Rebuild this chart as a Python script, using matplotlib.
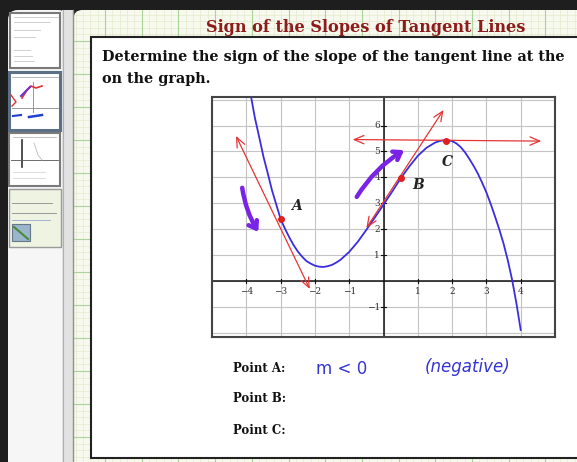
import matplotlib.pyplot as plt
import numpy as np
from matplotlib.patches import Rectangle, FancyBboxPatch

# curve
curveX = [-3.86, -3.75, -3.625, -3.5, -3.375, -3.25, -3.125, -3.0, -2.875, -2.75, -2.625,
          -2.5, -2.375, -2.25, -2.125, -2.0, -1.875, -1.75, -1.625, -1.5, -1.375, -1.25,
          -1.0, -0.75, -0.5, -0.25, 0.0, 0.25, 0.5, 0.75, 1.0, 1.25, 1.5, 1.625, 1.75,
          1.875, 2.0, 2.125, 2.25, 2.375, 2.5, 2.625, 2.75, 2.875, 3.0, 3.125, 3.25,
          3.375, 3.5, 3.625, 3.75, 3.875, 4.0]
curveY = [7.1, 6.3, 5.56, 4.8, 4.16, 3.5, 2.95, 2.4, 2.03, 1.7, 1.4,
          1.15, 0.95, 0.78, 0.68, 0.6, 0.56, 0.55, 0.58, 0.63, 0.72, 0.83,
          1.13, 1.52, 1.98, 2.46, 2.95, 3.45, 3.96, 4.42, 4.83, 5.14, 5.34, 5.40, 5.43,
          5.43, 5.40, 5.31, 5.17, 4.97, 4.72, 4.45, 4.15, 3.80, 3.42, 2.98, 2.5,
          2.0, 1.45, 0.8, 0.05, -0.85, -1.88]

# points A, B, C
ptNames = ['A', 'B', 'C']
ptX = [-3.0, 0.5, 1.82]
ptY = [2.4, 3.98, 5.42]
lblX = [-2.55, 1.0, 1.86]
lblY = [2.9, 3.72, 4.6]

# hand drawn tangent lines (start, end)
tanStart = [(-4.3, 5.6), (-0.5, 2.05), (-0.9, 5.46)]
tanEnd = [(-2.15, -0.3), (1.75, 6.6), (4.6, 5.4)]

# purple hand drawn arrows
purpStart = [(-4.12, 3.6), (-0.78, 3.25)]
purpEnd = [(-3.65, 1.9), (0.6, 5.05)]

xTicks = [-4, -3, -2, -1, 1, 2, 3, 4]
yTicks = [-1, 1, 2, 3, 4, 5, 6]

title = "Sign of the Slopes of Tangent Lines"
line1 = "Determine the sign of the slope of the tangent line at the"
line2 = "on the graph."
pointLbls = ["Point A:", "Point B:", "Point C:"]

W, H = 577, 462
fig = plt.figure(figsize=(W/100, H/100), dpi=100, facecolor='#1e1e1e')

# page background in pixel coords
bg = fig.add_axes([0, 0, 1, 1])
bg.set_xlim(0, W)
bg.set_ylim(H, 0)
bg.axis('off')

# left thumbnail panel
bg.add_patch(FancyBboxPatch((8, 10), 60, 470, boxstyle='round,pad=0,rounding_size=10',
                            fc='#f6f6f6', ec='none'))
bg.add_patch(Rectangle((62, 10), 11, 460, fc='#e2e2e2', ec='none'))
bg.plot([62.5, 62.5], [10, H], color='#b0b0b0', lw=0.8)
bg.plot([73, 73], [10, H], color='#909090', lw=1.0)

# thumbnails
bg.add_patch(Rectangle((10, 13), 50, 55, fc='white', ec='#7a7a7a', lw=1.5))
for yy, x2 in zip([17, 22, 30, 37, 50, 56, 61], [58, 50, 40, 35, 30, 32, 34]):
    bg.plot([14, x2], [yy, yy], color='#c8c8c8', lw=0.6)
bg.add_patch(Rectangle((9, 72), 51, 58, fc='white', ec='#5b7085', lw=2.2))
bg.plot([12, 58], [77, 77], color='#999999', lw=0.5)
bg.plot([33, 33], [82, 112], color='#888888', lw=0.6)
bg.plot([12, 58], [108, 108], color='#888888', lw=0.6)
bg.plot([11, 16, 12], [95, 102, 106], color='#e03030', lw=1.0)
bg.plot([22, 27, 31, 36, 42], [98, 90, 86, 88, 86], color='#e03030', lw=1.2)
bg.plot([21, 26, 30], [96, 91, 87], color='#7030d0', lw=1.5)
bg.plot([13, 21], [116, 115], color='#2040d0', lw=1.5)
bg.plot([29, 42], [117, 115], color='#2040d0', lw=1.8)
bg.add_patch(Rectangle((9, 133), 51, 53, fc='white', ec='#7a7a7a', lw=1.5))
bg.plot([13, 56], [137, 137], color='#aaaaaa', lw=0.5)
bg.plot([22, 22], [140, 167], color='#333333', lw=1.2)
bg.plot([11, 58], [160, 160], color='#555555', lw=0.6)
bg.plot([34, 38, 42], [143, 155, 160], color='#bbbbbb', lw=0.6)
for yy in [172, 178]:
    bg.plot([13, 45], [yy, yy], color='#cfcfcf', lw=0.5)
bg.add_patch(Rectangle((9, 189), 52, 58, fc='#eef3e2', ec='#9a9a9a', lw=1.0))
bg.plot([12, 52], [203, 203], color='#999999', lw=0.7)
bg.plot([12, 56], [213, 213], color='#999999', lw=0.7)
bg.plot([12, 50], [220, 220], color='#9aa6d8', lw=0.6)
bg.add_patch(Rectangle((12, 224), 18, 17, fc='#9ab6cc', ec='#667788', lw=0.8))
bg.plot([14, 28], [227, 239], color='#4a8a3a', lw=1.5)

# graph paper
paper = FancyBboxPatch((73.5, 10), 520, 470, boxstyle='round,pad=0,rounding_size=9',
                       fc='#f7f9ee', ec='none', zorder=1.1)
bg.add_patch(paper)
for gx in np.arange(105 - 36.7, W, 36.7/5):
    if gx > 74:
        bg.plot([gx, gx], [10, H], color='#e2ebcc', lw=0.5, zorder=1.2, clip_path=paper)
for gy in np.arange(8 + 33/5, H, 33/5):
    bg.plot([74, W], [gy, gy], color='#e2ebcc', lw=0.5, zorder=1.2, clip_path=paper)
for gx in np.arange(105 - 36.7, W, 36.7):
    if gx > 74:
        bg.plot([gx, gx], [10, H], color='#a9d49a', lw=0.8, zorder=1.3, clip_path=paper)
for gy in np.arange(8 + 33, H, 33):
    bg.plot([74, W], [gy, gy], color='#a9d49a', lw=0.8, zorder=1.3, clip_path=paper)

# slide box
bg.add_patch(Rectangle((91, 37), 500, 421, fc='white', ec='#222222', lw=1.5, zorder=2.5))

bg.text(366, 28, title, ha='center', va='center', color='#8e1b1b',
        family='DejaVu Serif', weight='bold', fontsize=11.6)
bg.text(102, 57, line1, ha='left', va='center', color='#111111',
        family='DejaVu Serif', weight='bold', fontsize=10.4)
bg.text(102, 79, line2, ha='left', va='center', color='#111111',
        family='DejaVu Serif', weight='bold', fontsize=10.4)
for i, s in enumerate(pointLbls):
    bg.text(233, 368 + 31*i, s, ha='left', va='center', color='#111111',
            family='DejaVu Serif', weight='bold', fontsize=8.5)
bg.text(316, 369, 'm < 0', ha='left', va='center', color='#3434d4', fontsize=12,
        family='DejaVu Sans')
bg.text(425, 367, '(negative)', ha='left', va='center', color='#3434d4', fontsize=12,
        family='DejaVu Sans', style='italic')

# the graph
ax = fig.add_axes([212/W, 1 - 337/H, 343/W, 240/H])
ax.set_xlim(-5, 5)
ax.set_ylim(-2.15, 7.1)
ax.set_facecolor('white')
ax.grid(True, color='#c4c4c4', lw=0.8)
ax.set_xticks(range(-5, 6))
ax.set_yticks(range(-2, 8))
ax.tick_params(length=0, labelbottom=False, labelleft=False)
for sp in ax.spines.values():
    sp.set_color('#444444')
    sp.set_linewidth(1.5)
ax.axhline(0, color='#111111', lw=1.1)
ax.axvline(0, color='#111111', lw=1.1)
for t in xTicks:
    ax.plot([t, t], [-0.08, 0.08], color='#111111', lw=0.8)
    ax.text(t, -0.38, '\u2212%d' % -t if t < 0 else str(t), ha='center', va='center',
            fontsize=6.5, family='DejaVu Serif', color='#333333')
for t in yTicks:
    ax.plot([-0.07, 0.07], [t, t], color='#111111', lw=0.8)
    ax.text(-0.1, t, '\u2212%d' % -t if t < 0 else str(t), ha='right', va='center',
            fontsize=6.5, family='DejaVu Serif', color='#333333')

ax.plot(curveX, curveY, color='#3a2ee0', lw=1.3, zorder=3)

for s, e in zip(tanStart, tanEnd):
    ax.annotate('', xy=e, xytext=s,
                arrowprops=dict(arrowstyle='<->,head_length=0.7,head_width=0.3',
                                color='#e53535', lw=0.9, shrinkA=0, shrinkB=0), zorder=4)

for s, e, r in zip(purpStart, purpEnd, [0.1, -0.12]):
    ax.annotate('', xy=e, xytext=s,
                arrowprops=dict(arrowstyle='->,head_length=0.5,head_width=0.35',
                                color='#7a22e6', lw=3.2, shrinkA=0, shrinkB=0,
                                connectionstyle='arc3,rad=%s' % r), zorder=5)

ax.plot(ptX, ptY, 'o', color='#e02020', ms=4, zorder=6)
for n, x, y in zip(ptNames, lblX, lblY):
    ax.text(x, y, n, ha='center', va='center', fontsize=10, family='DejaVu Serif',
            weight='bold', style='italic', color='#222222')

plt.savefig('out.png', dpi=100, facecolor=fig.get_facecolor())
